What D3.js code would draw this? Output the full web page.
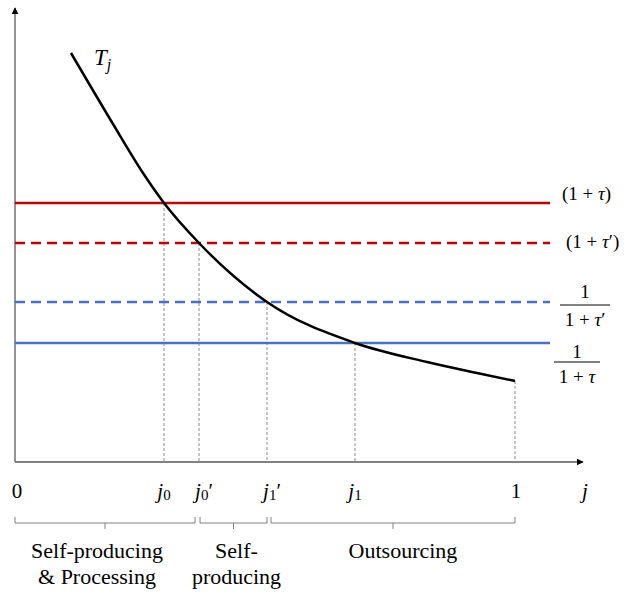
<!DOCTYPE html>
<html>
<head>
<meta charset="utf-8">
<script src="https://cdn.jsdelivr.net/npm/d3@7"></script>
<style>
  body { margin: 0; background: #fff; }
  text { font-family: "Liberation Serif", "DejaVu Serif", serif; }
</style>
</head>
<body>
<div id="chart"></div>
<script>
// curve T_j (j, height)
const curveJ = [0.112, 0.196, 0.256, 0.298, 0.368, 0.504, 0.68, 0.824, 0.924, 1.0];
const curveT = [4.09, 3.38, 2.89, 2.59, 2.19, 1.60, 1.19, 1.00, 0.89, 0.81];

// horizontal threshold lines
const levelNames = ["tau", "tauPrime", "invTauPrime", "invTau"];
const levelValues = [2.59, 2.19, 1.60, 1.19];
const levelColors = ["#C00000", "#C00000", "#4472C4", "#4472C4"];
const levelDashed = [false, true, true, false];

// cut-off points on the j axis
const cutNames = ["j0", "j0p", "j1p", "j1", "one"];
const cutValues = [0.298, 0.368, 0.504, 0.68, 1.0];
const cutHeights = [2.59, 2.19, 1.60, 1.19, 0.81];

// regions (braces)
const regionStart = [0, 0.37, 0.512];
const regionEnd = [0.36, 0.504, 1.0];
const regionLabels = [["Self-producing", "& Processing"], ["Self-", "producing"], ["Outsourcing"]];
const labelShift = [-8, 3, 10];

const width = 631, height = 594;
const svg = d3.select("#chart").append("svg")
    .attr("width", width)
    .attr("height", height);

const x = d3.scaleLinear().domain([0, 1]).range([15, 515]);
const y = d3.scaleLinear().domain([0, 4.54]).range([462, 8]);

const axisColor = "#595959";

svg.append("defs").append("marker")
    .attr("id", "arrow")
    .attr("viewBox", "0 0 10 10")
    .attr("refX", 9).attr("refY", 5)
    .attr("markerWidth", 7).attr("markerHeight", 7)
    .attr("markerUnits", "userSpaceOnUse")
    .attr("orient", "auto")
    .append("path")
    .attr("d", "M0,0L10,5L0,10Z")
    .attr("fill", "#000");

// axes
svg.append("line")
    .attr("x1", x(0)).attr("y1", y(0))
    .attr("x2", x(1.136)).attr("y2", y(0))
    .attr("stroke", axisColor).attr("stroke-width", 1.3)
    .attr("marker-end", "url(#arrow)");
svg.append("line")
    .attr("x1", x(0)).attr("y1", y(0))
    .attr("x2", x(0)).attr("y2", y(4.54))
    .attr("stroke", axisColor).attr("stroke-width", 1.3)
    .attr("marker-end", "url(#arrow)");

// dotted drop lines
svg.selectAll(".drop").data(cutValues).enter().append("line")
    .attr("class", "drop")
    .attr("x1", d => x(d)).attr("x2", d => x(d))
    .attr("y1", (d, i) => y(cutHeights[i])).attr("y2", y(0))
    .attr("stroke", "#8c8c8c").attr("stroke-width", 1)
    .attr("stroke-dasharray", "3,2");

// horizontal lines
svg.selectAll(".level").data(levelValues).enter().append("line")
    .attr("class", "level")
    .attr("x1", x(0)).attr("x2", x(1.07))
    .attr("y1", d => y(d)).attr("y2", d => y(d))
    .attr("stroke", (d, i) => levelColors[i])
    .attr("stroke-width", 2.5)
    .attr("stroke-dasharray", (d, i) => levelDashed[i] ? "10,6" : null);

// T_j curve
const pts = curveJ.map((j, i) => [j, curveT[i]]);
svg.append("path")
    .datum(pts)
    .attr("d", d3.line().x(d => x(d[0])).y(d => y(d[1])).curve(d3.curveMonotoneX))
    .attr("fill", "none")
    .attr("stroke", "#000")
    .attr("stroke-width", 2.5);

// T_j label
const tl = svg.append("text").attr("x", 94).attr("y", 65)
    .attr("font-size", 23).attr("font-style", "italic");
tl.append("tspan").text("T");
tl.append("tspan").attr("font-size", 16).attr("dy", 5).text("j");

// right side labels
const mathSize = 19;
svg.append("text").attr("x", 562).attr("y", 200).attr("font-size", mathSize)
    .html('(1 + <tspan font-style="italic">τ</tspan>)');
svg.append("text").attr("x", 566).attr("y", 248).attr("font-size", mathSize)
    .html('(1 + <tspan font-style="italic">τ</tspan>′)');

function fraction(cx, yNum, yBar, yDen, barW, den) {
    svg.append("text").attr("x", cx).attr("y", yNum).attr("text-anchor", "middle")
        .attr("font-size", mathSize).text("1");
    svg.append("line").attr("x1", cx - barW / 2).attr("x2", cx + barW / 2)
        .attr("y1", yBar).attr("y2", yBar).attr("stroke", "#000").attr("stroke-width", 1);
    svg.append("text").attr("x", cx).attr("y", yDen).attr("text-anchor", "middle")
        .attr("font-size", mathSize).html(den);
}
fraction(585, 298, 305, 326, 50, '1 + <tspan font-style="italic">τ</tspan>′');
fraction(577, 358, 362, 383, 46, '1 + <tspan font-style="italic">τ</tspan>');

// tick labels on j axis
const tickY = 498;
svg.append("text").attr("x", x(0) + 2).attr("y", tickY).attr("text-anchor", "middle")
    .attr("font-size", 21).text("0");
const jLabels = [["0", ""], ["0", "′"], ["1", "′"], ["1", ""]];
cutValues.slice(0, 4).forEach((v, i) => {
    const t = svg.append("text").attr("x", x(v) + (jLabels[i][1] ? 5 : 0)).attr("y", tickY)
        .attr("text-anchor", "middle").attr("font-size", 21);
    t.append("tspan").attr("font-style", "italic").text("j");
    t.append("tspan").attr("font-size", 15).attr("dy", 2).text(jLabels[i][0]);
    if (jLabels[i][1]) t.append("tspan").attr("dy", -2).attr("font-size", 21).text(jLabels[i][1]);
});
svg.append("text").attr("x", x(1) + 1).attr("y", tickY).attr("text-anchor", "middle")
    .attr("font-size", 21).text("1");
svg.append("text").attr("x", 585).attr("y", tickY).attr("text-anchor", "middle")
    .attr("font-size", 21).attr("font-style", "italic").text("j");

// braces
const braceTop = 517, braceMid = 523, braceTip = 529;
regionStart.forEach((s, i) => {
    const x0 = x(s), x1 = x(regionEnd[i]), xc = (x0 + x1) / 2;
    svg.append("path")
        .attr("d", `M${x0},${braceTop}L${x0},${braceMid}L${x1},${braceMid}L${x1},${braceTop}M${xc},${braceMid}L${xc},${braceTip}`)
        .attr("fill", "none").attr("stroke", "#7f7f7f").attr("stroke-width", 1);
    regionLabels[i].forEach((l, k) => {
        svg.append("text").attr("x", xc + labelShift[i]).attr("y", 558 + k * 26)
            .attr("text-anchor", "middle").attr("font-size", 22).text(l);
    });
});
</script>
</body>
</html>
